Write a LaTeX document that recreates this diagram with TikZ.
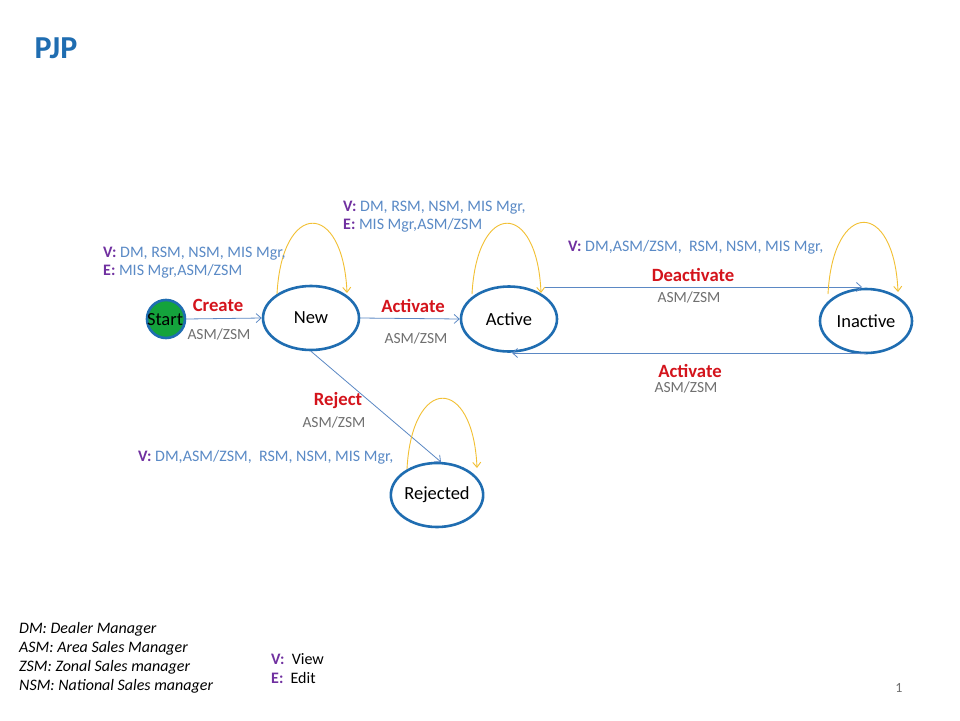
\documentclass[tikz,border=0pt]{standalone}
\usepackage{fontspec}
\setmainfont{Carlito}
\usetikzlibrary{arrows.meta,shapes.geometric}
\definecolor{nodeblue}{HTML}{1F6DB1}
\definecolor{lineblue}{HTML}{5B88C4}
\definecolor{textblue}{HTML}{5A8AC6}
\definecolor{vpurple}{HTML}{7030A0}
\definecolor{actred}{HTML}{D4141C}
\definecolor{roleg}{HTML}{707070}
\definecolor{loopy}{HTML}{F2C033}
\definecolor{startg}{HTML}{14A33C}
\begin{document}
\begin{tikzpicture}[x=1pt,y=-1pt,
  state/.style={ellipse,draw=nodeblue,line width=2.6pt,fill=white,minimum width=#1,inner sep=0pt,font=\fontsize{18.5}{20}\selectfont},
  trans/.style={draw=lineblue,line width=0.8pt,-{Straight Barb[length=5pt,width=9pt]}},
  selfloop/.style={draw=loopy,line width=0.9pt,-{Straight Barb[length=5pt,width=8pt]}},
  act/.style={text=actred,font=\bfseries\fontsize{18.7}{20}\selectfont,inner sep=0pt},
  role/.style={text=roleg,font=\fontsize{15.5}{18}\selectfont,inner sep=0pt},
  perm/.style={text=textblue,font=\fontsize{16}{18}\selectfont,inner sep=0pt,anchor=west,align=left},
  legend/.style={font=\itshape\fontsize{16}{18}\selectfont,inner sep=0pt,anchor=west}]
\useasboundingbox (0,0) rectangle (960,720);
\fill[white] (0,0) rectangle (960,720);
\newcommand{\pv}{\textcolor{vpurple}{\bfseries V:}}
\newcommand{\pe}{\textcolor{vpurple}{\bfseries E:}}
% title
\node[text=nodeblue,font=\bfseries\fontsize{32}{36}\selectfont,inner sep=0pt] (title) at (56,48) {PJP};
% states
\node[circle,draw=nodeblue,fill=startg,line width=2.6pt,minimum size=38pt,inner sep=0pt] (start) at (166,319) {};
\node[font=\fontsize{18.5}{20}\selectfont,inner sep=0pt] (starttxt) at (165,320) {Start};
\node[state=96pt,minimum height=64pt] (new) at (311,318) {New};
\node[state=96pt,minimum height=65pt] (active) at (509,319) {Active};
\node[state=92pt,minimum height=64pt] (inactive) at (866,321) {Inactive};
\node[state=92pt,minimum height=64pt] (rejected) at (437,495) {Rejected};
% transitions
\draw[trans] (start.east) -- (new.west);
\draw[trans] (new.east) -- (active.west);
\coordinate (dA) at (545,287);
\coordinate (dB) at (862,287);
\draw[trans] (dA) -- (dB);
\coordinate (aA) at (866,353);
\coordinate (aB) at (512,353);
\draw[trans] (aA) -- (aB);
\coordinate (rB) at (441,462);
\draw[trans] (new.south) -- (rB);
% self loops
\coordinate (n1) at (277,294); \coordinate (n2) at (347,293);
\draw[selfloop] (n1) .. controls (282,200) and (343,200) .. (n2);
\coordinate (a1) at (472,294); \coordinate (a2) at (541,293);
\draw[selfloop] (a1) .. controls (477,200) and (537,200) .. (a2);
\coordinate (i1) at (828,294); \coordinate (i2) at (898,292);
\draw[selfloop] (i1) .. controls (833,199) and (894,199) .. (i2);
\coordinate (r1) at (407,469); \coordinate (r2) at (477,468);
\draw[selfloop] (r1) .. controls (412,375) and (473,375) .. (r2);
% labels
\node[act] (lcreate) at (218,305) {Create};
\node[role] (rcreate) at (219,334) {ASM/ZSM};
\node[act] (lact1) at (413,306) {Activate};
\node[role] (ract1) at (416,338) {ASM/ZSM};
\node[act] (ldeact) at (693,275) {Deactivate};
\node[role] (rdeact) at (689,297) {ASM/ZSM};
\node[act] (lact2) at (690,371) {Activate};
\node[role] (ract2) at (686,387) {ASM/ZSM};
\node[act] (lrej) at (338,401) {Reject};
\node[role] (rrej) at (334,422) {ASM/ZSM};
% permissions
\node[perm] (p1) at (103,263) {\pv{} DM, RSM, NSM, MIS Mgr,\\\pe{} MIS Mgr,ASM/ZSM};
\node[perm] (p2) at (343,217) {\pv{} DM, RSM, NSM, MIS Mgr,\\\pe{} MIS Mgr,ASM/ZSM};
\node[perm] (p3) at (568,247) {\pv{} DM,ASM/ZSM,\ \ RSM, NSM, MIS Mgr,};
\node[perm] (p4) at (138,457) {\pv{} DM,ASM/ZSM,\ \ RSM, NSM, MIS Mgr,};
% legend
\node[legend] (l1) at (19,629) {DM: Dealer Manager};
\node[legend] (l2) at (19,648) {ASM: Area Sales Manager};
\node[legend] (l3) at (19,667) {ZSM: Zonal Sales manager};
\node[legend] (l4) at (19,686) {NSM: National Sales manager};
\node[font=\fontsize{16}{18}\selectfont,inner sep=0pt,anchor=west] (lv) at (271,659) {\pv{}\ \ View};
\node[font=\fontsize{16}{18}\selectfont,inner sep=0pt,anchor=west] (le) at (271,678) {\pe{}\ \ Edit};
\node[text=roleg,font=\fontsize{14}{16}\selectfont,inner sep=0pt] (pg) at (899,688) {1};
\end{tikzpicture}
\end{document}
